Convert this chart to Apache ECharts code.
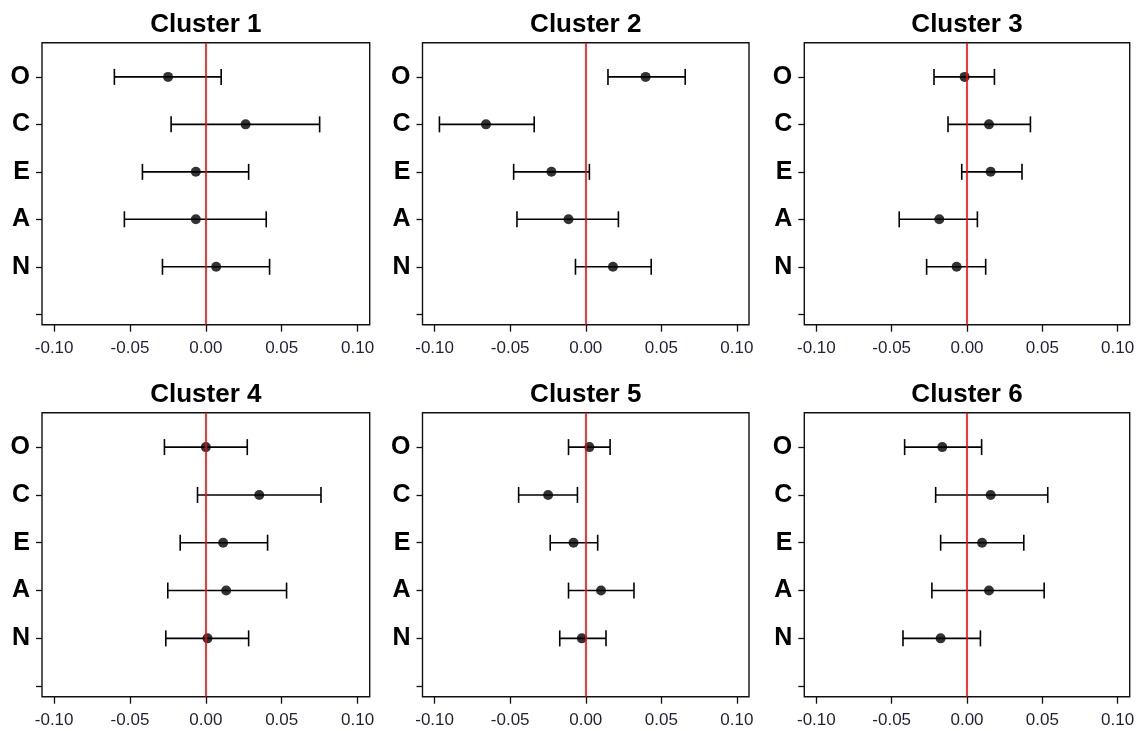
<!DOCTYPE html>
<html>
<head>
<meta charset="utf-8">
<script src="https://cdn.jsdelivr.net/npm/echarts@6/dist/echarts.min.js"></script>
<style>
html,body{margin:0;padding:0;background:#fff;}
#chart{width:1143px;height:731px;}
</style>
</head>
<body>
<div id="chart"></div>
<script>
// Traits plotted bottom-to-top at y = 1..5
const traits = ['N', 'A', 'E', 'C', 'O'];
const clusterTitles = ['Cluster 1', 'Cluster 2', 'Cluster 3', 'Cluster 4', 'Cluster 5', 'Cluster 6'];
const xTicks = [-0.10, -0.05, 0.00, 0.05, 0.10];

// values in trait order N, A, E, C, O
const c1Est = [0.0068, -0.0066, -0.0066, 0.0262, -0.0249];
const c1Lo  = [-0.0286, -0.0537, -0.0418, -0.0229, -0.0603];
const c1Hi  = [0.0420, 0.0398, 0.0282, 0.0750, 0.0101];

const c2Est = [0.0180, -0.0114, -0.0227, -0.0660, 0.0396];
const c2Lo  = [-0.0068, -0.0455, -0.0477, -0.0968, 0.0147];
const c2Hi  = [0.0433, 0.0216, 0.0024, -0.0341, 0.0658];

const c3Est = [-0.0069, -0.0184, 0.0157, 0.0146, -0.0016];
const c3Lo  = [-0.0268, -0.0450, -0.0035, -0.0126, -0.0219];
const c3Hi  = [0.0124, 0.0069, 0.0365, 0.0421, 0.0182];

const c4Est = [0.0011, 0.0134, 0.0114, 0.0352, 0.0000];
const c4Lo  = [-0.0264, -0.0251, -0.0169, -0.0055, -0.0273];
const c4Hi  = [0.0282, 0.0532, 0.0407, 0.0759, 0.0273];

const c5Est = [-0.0026, 0.0101, -0.0081, -0.0249, 0.0024];
const c5Lo  = [-0.0172, -0.0114, -0.0235, -0.0444, -0.0114];
const c5Hi  = [0.0134, 0.0319, 0.0079, -0.0055, 0.0161];

const c6Est = [-0.0175, 0.0146, 0.0100, 0.0157, -0.0164];
const c6Lo  = [-0.0425, -0.0233, -0.0175, -0.0208, -0.0414];
const c6Hi  = [0.0089, 0.0512, 0.0377, 0.0536, 0.0097];

const clusters = [
  [c1Est, c1Lo, c1Hi], [c2Est, c2Lo, c2Hi], [c3Est, c3Lo, c3Hi],
  [c4Est, c4Lo, c4Hi], [c5Est, c5Lo, c5Hi], [c6Est, c6Lo, c6Hi]
];

const FONT = '"Liberation Sans", Arial, sans-serif';
const colLeft = [42, 422.5, 804.3];
const colWidth = [327.7, 326.5, 325.4];
const rowTop = [42.7, 412.7];
const rowHeight = [282, 284];

const grids = [], xAxes = [], yAxes = [], series = [], graphics = [];

for (let i = 0; i < 6; i++) {
  const r = Math.floor(i / 3), c = i % 3;
  grids.push({
    left: colLeft[c], top: rowTop[r], width: colWidth[c], height: rowHeight[r],
    show: true, borderColor: '#111', borderWidth: 1.4, backgroundColor: 'transparent'
  });
  xAxes.push({
    type: 'value', gridIndex: i, min: -0.108, max: 0.108,
    splitLine: { show: false },
    axisLine: { show: false, onZero: false },
    axisTick: { show: true, inside: false, length: 7, customValues: xTicks, lineStyle: { color: '#111', width: 1.3 } },
    axisLabel: {
      show: true, customValues: xTicks, margin: 15,
      formatter: v => v.toFixed(2),
      fontFamily: FONT, fontSize: 17, color: '#1f1f3a'
    }
  });
  yAxes.push({
    type: 'value', gridIndex: i, min: -0.22, max: 5.72,
    splitLine: { show: false },
    axisLine: { show: false, onZero: false },
    axisTick: { show: true, inside: false, length: 6, customValues: [0, 1, 2, 3, 4, 5], lineStyle: { color: '#111', width: 1.3 } },
    axisLabel: {
      show: true, customValues: [1, 2, 3, 4, 5], margin: 12,
      formatter: v => traits[Math.round(v) - 1] || '',
      fontFamily: FONT, fontSize: 25, fontWeight: 'bold', color: '#000',
      padding: [8, 0, 0, 0]
    }
  });
  const [est, lo, hi] = clusters[i];
  const barData = traits.map((t, k) => [lo[k], hi[k], k + 1]);
  series.push({
    type: 'custom', xAxisIndex: i, yAxisIndex: i, z: 2,
    data: barData,
    renderItem: function (params, api) {
      const p1 = api.coord([api.value(0), api.value(2)]);
      const p2 = api.coord([api.value(1), api.value(2)]);
      const h = 8;
      const st = { stroke: '#000', lineWidth: 1.6, fill: null };
      return {
        type: 'group',
        children: [
          { type: 'line', shape: { x1: p1[0], y1: p1[1], x2: p2[0], y2: p2[1] }, style: st },
          { type: 'line', shape: { x1: p1[0], y1: p1[1] - h, x2: p1[0], y2: p1[1] + h }, style: st },
          { type: 'line', shape: { x1: p2[0], y1: p2[1] - h, x2: p2[0], y2: p2[1] + h }, style: st }
        ]
      };
    }
  });
  series.push({
    type: 'scatter', xAxisIndex: i, yAxisIndex: i, z: 3,
    symbol: 'circle', symbolSize: 10,
    itemStyle: { color: '#000' },
    data: traits.map((t, k) => [est[k], k + 1])
  });
  series.push({
    type: 'line', xAxisIndex: i, yAxisIndex: i, z: 5, data: [],
    markLine: {
      silent: true, symbol: ['none', 'none'], label: { show: false },
      lineStyle: { color: '#ff0000', width: 1.6, type: 'solid' },
      data: [{ xAxis: 0 }]
    }
  });
  graphics.push({
    type: 'text',
    x: colLeft[c] + colWidth[c] / 2, y: rowTop[r] - 18,
    style: {
      text: clusterTitles[i], textAlign: 'center', textVerticalAlign: 'middle',
      font: 'bold 26px ' + FONT, fill: '#000'
    }
  });
}

const chart = echarts.init(document.getElementById('chart'), null, { renderer: 'canvas' });
chart.setOption({
  animation: false,
  backgroundColor: '#fff',
  grid: grids, xAxis: xAxes, yAxis: yAxes, series: series,
  graphic: graphics
});
</script>
</body>
</html>
